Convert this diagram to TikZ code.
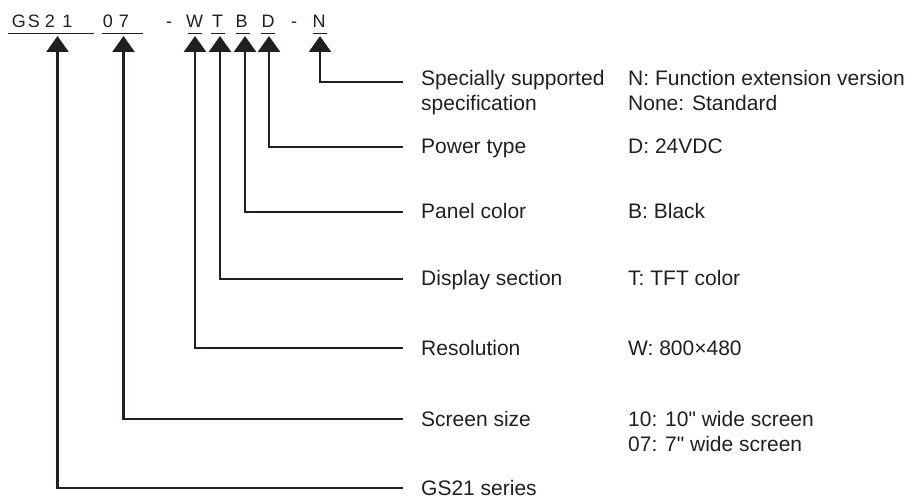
\documentclass[tikz,border=0pt]{standalone}
\usepackage{fontspec}
\setmainfont{Liberation Sans}
\usetikzlibrary{arrows.meta}
\definecolor{ink}{RGB}{35,31,32}
\begin{document}
\begin{tikzpicture}[x=1pt,y=-1pt,
  code/.style={anchor=base,inner sep=0pt,text=ink,font=\fontsize{18}{21}\selectfont},
  lbl/.style={anchor=base west,inner sep=0pt,text=ink,font=\fontsize{21}{25}\selectfont},
  uline/.style={draw=ink,line width=1.2pt},
  conn/.style={draw=ink,line width=2.5pt,-{Triangle[width=22pt,length=16pt]}}]
\useasboundingbox (0,0) rectangle (912,502);
% top code characters
\node[code] (cG) at (18.8,27.8) {G};
\node[code] (cS) at (34,27.8) {S};
\node[code] (c2) at (50,27.8) {2};
\node[code] (c1) at (67.5,27.8) {1};
\node[code] (c0) at (108,27.8) {0};
\node[code] (c7) at (124,27.8) {7};
\node[code] (cd1) at (169,27.8) {-};
\node[code] (cW) at (194.5,27.8) {W};
\node[code] (cT) at (217.5,27.8) {T};
\node[code] (cB) at (241.5,27.8) {B};
\node[code] (cD) at (268,27.8) {D};
\node[code] (cd2) at (294,27.8) {-};
\node[code] (cN) at (319,27.8) {N};
% underlines
\draw[uline] (7.5,33.5) -- (94,33.5);
\draw[uline] (102,33.5) -- (143,33.5);
\draw[uline] (187.5,33.5) -- (202,33.5);
\draw[uline] (211,33.5) -- (225,33.5);
\draw[uline] (235.5,33.5) -- (249.5,33.5);
\draw[uline] (260.5,33.5) -- (275,33.5);
\draw[uline] (312.5,33.5) -- (326.5,33.5);
% arrow tips
\coordinate (tGS) at (57.5,36);
\coordinate (t07) at (123.5,36);
\coordinate (tW) at (195,36);
\coordinate (tT) at (220,36);
\coordinate (tB) at (245,36);
\coordinate (tD) at (269,36);
\coordinate (tN) at (320,36);
% line ends
\coordinate (eN) at (403,82);
\coordinate (eD) at (403,147);
\coordinate (eB) at (403,212);
\coordinate (eT) at (403,279);
\coordinate (eW) at (403,348);
\coordinate (e07) at (403,419);
\coordinate (eGS) at (403,488);
% labels
\node[lbl] (lN1) at (421,86) {Specially supported};
\node[lbl] (lN2) at (421,111) {specification};
\node[lbl] (vN1) at (628,86) {N: Function extension version};
\node[lbl] (vN2) at (628,111) {None: Standard};
\node[lbl] (lD) at (421,154) {Power type};
\node[lbl] (vD) at (628,154) {D: 24VDC};
\node[lbl] (lB) at (421,219) {Panel color};
\node[lbl] (vB) at (628,219) {B: Black};
\node[lbl] (lT) at (421,286) {Display section};
\node[lbl] (vT) at (628,286) {T: TFT color};
\node[lbl] (lW) at (421,355) {Resolution};
\node[lbl] (vW) at (628,355) {W: 800×480};
\node[lbl] (l07) at (421,426) {Screen size};
\node[lbl] (v10) at (628,426) {10: 10\textquotedbl{} wide screen};
\node[lbl] (v07) at (628,451) {07: 7\textquotedbl{} wide screen};
\node[lbl] (lGS) at (421,495) {GS21 series};
% connectors
\draw[conn] (eN) -| (tN);
\draw[conn] (eD) -| (tD);
\draw[conn] (eB) -| (tB);
\draw[conn] (eT) -| (tT);
\draw[conn] (eW) -| (tW);
\draw[conn] (e07) -| (t07);
\draw[conn] (eGS) -| (tGS);
\end{tikzpicture}
\end{document}
